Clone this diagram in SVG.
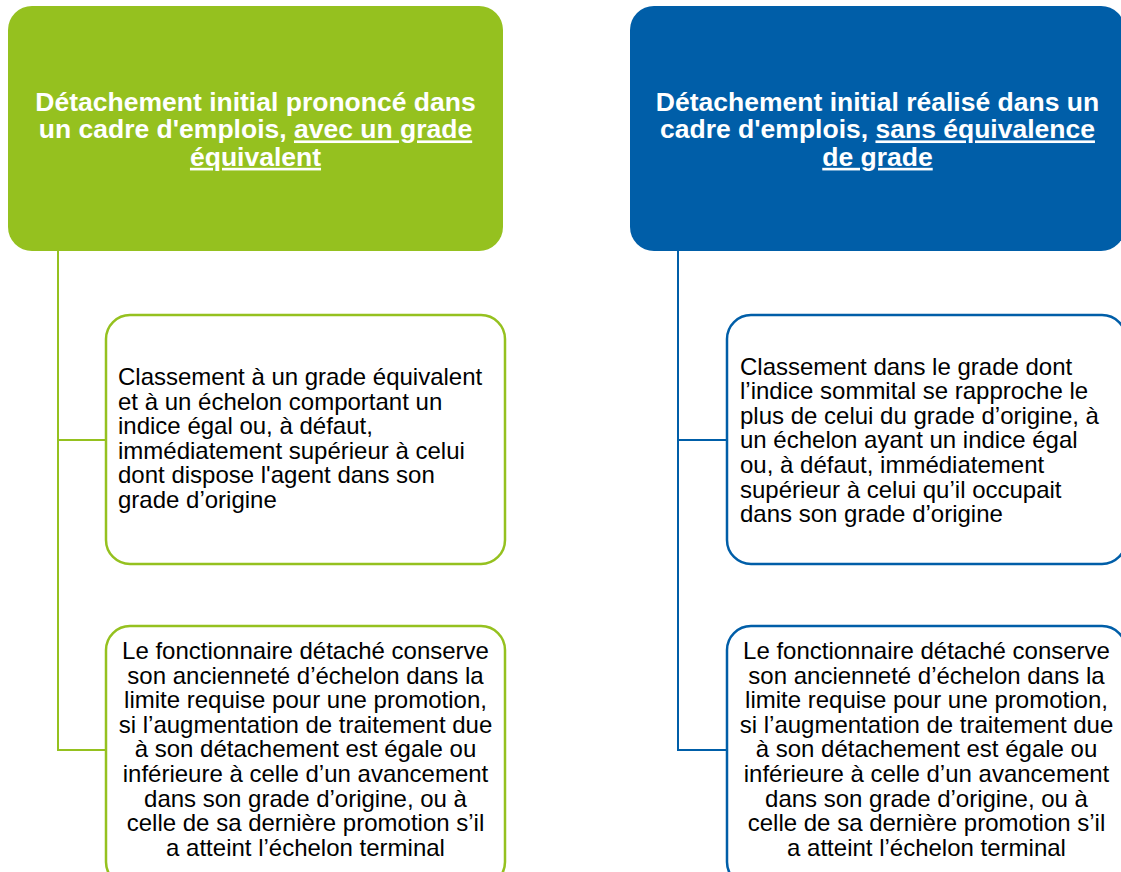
<svg xmlns="http://www.w3.org/2000/svg" width="1121" height="872" viewBox="0 0 1121 872">
<style>
.hdr{font-family:"Liberation Sans",Arial,sans-serif;font-weight:bold;font-size:26.5px;fill:#ffffff;text-anchor:middle}
.body{font-family:"Liberation Sans",Arial,sans-serif;font-size:24px;fill:#000000}
.mid{text-anchor:middle}
.u{text-decoration:underline}
.gbox{fill:#ffffff;stroke:#95c11f;stroke-width:2.5}
.bbox{fill:#ffffff;stroke:#005ea8;stroke-width:2.5}
.gline{fill:none;stroke:#95c11f;stroke-width:2}
.bline{fill:none;stroke:#005ea8;stroke-width:2}
</style>
<rect width="1121" height="872" fill="#ffffff"/>
<g id="connectors">
<path class="gline" d="M58 251 V750 H106 M58 440 H106"/>
<path class="bline" d="M678 251 V750 H727 M678 440 H727"/>
</g>
<g id="header-green">
<rect x="8" y="6" width="495" height="245" rx="24" fill="#95c11f"/>
<text class="hdr"><tspan x="255.5" y="111">Détachement initial prononcé dans</tspan><tspan x="255.5" y="138.4">un cadre d'emplois, <tspan class="u">avec un grade</tspan></tspan><tspan x="255.5" y="165.8" class="u">équivalent</tspan></text>
</g>
<g id="header-blue">
<rect x="630" y="6" width="495" height="245" rx="24" fill="#005ea8"/>
<text class="hdr"><tspan x="877.5" y="111">Détachement initial réalisé dans un</tspan><tspan x="877.5" y="138.4">cadre d'emplois, <tspan class="u">sans équivalence</tspan></tspan><tspan x="877.5" y="165.8" class="u">de grade</tspan></text>
</g>
<g id="green-1">
<rect class="gbox" x="106" y="315" width="399" height="249" rx="24"/>
<text class="body"><tspan x="118" y="385">Classement à un grade équivalent</tspan><tspan x="118" y="409.6">et à un échelon comportant un</tspan><tspan x="118" y="434.2">indice égal ou, à défaut,</tspan><tspan x="118" y="458.8">immédiatement supérieur à celui</tspan><tspan x="118" y="483.4">dont dispose l'agent dans son</tspan><tspan x="118" y="508">grade d’origine</tspan></text>
</g>
<g id="green-2">
<rect class="gbox" x="106" y="626" width="399" height="260" rx="24"/>
<text class="body mid"><tspan x="305.5" y="659">Le fonctionnaire détaché conserve</tspan><tspan x="305.5" y="683.6">son ancienneté d’échelon dans la</tspan><tspan x="305.5" y="708.2">limite requise pour une promotion,</tspan><tspan x="305.5" y="732.8">si l’augmentation de traitement due</tspan><tspan x="305.5" y="757.4">à son détachement est égale ou</tspan><tspan x="305.5" y="782">inférieure à celle d’un avancement</tspan><tspan x="305.5" y="806.6">dans son grade d’origine, ou à</tspan><tspan x="305.5" y="831.2">celle de sa dernière promotion s’il</tspan><tspan x="305.5" y="855.8">a atteint l’échelon terminal</tspan></text>
</g>
<g id="blue-1">
<rect class="bbox" x="727" y="315" width="399" height="249" rx="24"/>
<text class="body"><tspan x="740" y="374.5">Classement dans le grade dont</tspan><tspan x="740" y="399.1">l’indice sommital se rapproche le</tspan><tspan x="740" y="423.7">plus de celui du grade d’origine, à</tspan><tspan x="740" y="448.3">un échelon ayant un indice égal</tspan><tspan x="740" y="472.9">ou, à défaut, immédiatement</tspan><tspan x="740" y="497.5">supérieur à celui qu’il occupait</tspan><tspan x="740" y="522.1">dans son grade d’origine</tspan></text>
</g>
<g id="blue-2">
<rect class="bbox" x="727" y="626" width="399" height="260" rx="24"/>
<text class="body mid"><tspan x="926.5" y="659">Le fonctionnaire détaché conserve</tspan><tspan x="926.5" y="683.6">son ancienneté d’échelon dans la</tspan><tspan x="926.5" y="708.2">limite requise pour une promotion,</tspan><tspan x="926.5" y="732.8">si l’augmentation de traitement due</tspan><tspan x="926.5" y="757.4">à son détachement est égale ou</tspan><tspan x="926.5" y="782">inférieure à celle d’un avancement</tspan><tspan x="926.5" y="806.6">dans son grade d’origine, ou à</tspan><tspan x="926.5" y="831.2">celle de sa dernière promotion s’il</tspan><tspan x="926.5" y="855.8">a atteint l’échelon terminal</tspan></text>
</g>
</svg>
